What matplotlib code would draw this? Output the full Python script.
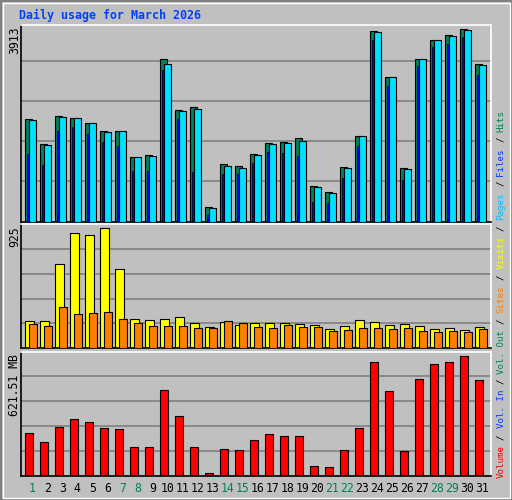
import matplotlib
matplotlib.use("Agg")
import matplotlib.pyplot as plt
import numpy as np
from matplotlib.patches import Rectangle

days = list(range(1, 32))
weekend_days = [1, 7, 8, 14, 15, 21, 22, 28, 29]

hits = [2050, 1551, 2110, 2070, 1970, 1810, 1810, 1291, 1331, 3228, 2230, 2290, 293, 1152, 1112, 1351,
        1571, 1591, 1671, 713, 593, 1092, 1711, 3787, 2868, 1072, 3228, 3607, 3707, 3827, 3128]
files = [2030, 1531, 2090, 2070, 1970, 1790, 1810, 1291, 1311, 3128, 2210, 2250, 273, 1112, 1072, 1331,
         1551, 1571, 1611, 693, 573, 1072, 1711, 3767, 2868, 1052, 3228, 3607, 3687, 3807, 3108]
pages = [1351, 1132, 1796, 1876, 1750, 1591, 1511, 1012, 1012, 3008, 2050, 992, 120, 952, 952, 1172,
         1391, 1371, 1311, 393, 373, 872, 1511, 3607, 2689, 832, 3088, 3467, 3527, 3667, 2908]
visits = [201, 201, 625, 856, 841, 893, 588, 216, 208, 216, 231, 186, 156, 193, 171, 186,
          186, 186, 179, 171, 141, 164, 208, 193, 171, 179, 164, 141, 149, 134, 156]
sites = [179, 164, 305, 253, 260, 268, 216, 186, 164, 164, 164, 149, 149, 201, 186, 156,
         149, 171, 156, 156, 126, 134, 149, 149, 141, 149, 126, 119, 126, 119, 141]
volume_mb = [213, 168, 243, 284, 269, 238, 233, 143, 143, 430, 299, 143, 12, 133, 128, 178,
             208, 198, 198, 47, 42, 128, 238, 571, 425, 123, 485, 561, 571, 601, 480]

HITS_MAX, VISITS_MAX, VOL_MAX = 3913, 925, 621.51

BG = "#C0C0C0"
W, H = 512, 500
fig = plt.figure(figsize=(W / 100, H / 100), dpi=100)
fig.patch.set_facecolor(BG)
mono = "DejaVu Sans Mono"

# outer 3D border
fig.patches.append(Rectangle((0.5 / W, 0.5 / H), 1 - 1 / W, 1 - 1 / H, transform=fig.transFigure,
                             fill=False, ec="#808080", lw=1.5))
fig.patches.append(Rectangle((2.5 / W, 2.5 / H), 1 - 5 / W, 1 - 5 / H, transform=fig.transFigure,
                             fill=False, ec="white", lw=1))


def make_ax(top, bottom):
    left, right = 20.7, 491
    ax = fig.add_axes([left / W, (H - bottom) / H, (right - left) / W, (bottom - top) / H])
    ax.set_facecolor(BG)
    ax.set_xlim(0.327, 31.68)
    ax.set_xticks([])
    ax.set_yticks([])
    for s in ("left", "bottom"):
        ax.spines[s].set_color("black")
    for s in ("top", "right"):
        ax.spines[s].set_color("white")
    for sp in ax.spines.values():
        sp.set_linewidth(1.2)
    return ax


x = np.array(days, dtype=float)
u = 1 / 15  # one pixel in day units

# top panel
ax1 = make_ax(25, 221.5)
ax1.set_ylim(0, HITS_MAX)
for g in range(1, 5):
    ax1.axhline(HITS_MAX * g / 4.9, color="#808080", lw=1.2, zorder=0)
ax1.bar(x - 5.5 * u, hits, width=7 * u, align="edge", color="#00805C", ec="black", lw=0.8, zorder=2)
ax1.bar(x - 1.5 * u, files, width=7.2 * u, align="edge", color="#00E0FF", ec="black", lw=0.8, zorder=3)
ax1.bar(x - 3.8 * u, pages, width=2.2 * u, align="edge", color="#0000FF", ec="black", lw=0.5, zorder=4)

# middle panel
ax2 = make_ax(224, 348.3)
ax2.set_ylim(0, VISITS_MAX)
for g in range(1, 5):
    ax2.axhline(VISITS_MAX * g / 5, color="#808080", lw=1.2, zorder=0)
ax2.bar(x - 5.5 * u, visits, width=8.3 * u, align="edge", color="#FFFF00", ec="black", lw=0.8, zorder=2)
ax2.bar(x - 1.5 * u, sites, width=7.3 * u, align="edge", color="#FF8000", ec="black", lw=0.8, zorder=3)

# bottom panel
ax3 = make_ax(352.3, 475.7)
ax3.set_ylim(0, VOL_MAX)
for g in range(1, 5):
    ax3.axhline(VOL_MAX * g / 4.93, color="#808080", lw=1.2, zorder=0)
ax3.bar(x - 5.5 * u, volume_mb, width=7.3 * u, align="edge", color="#FF0000", ec="black", lw=0.8, zorder=2)

# day labels
for d in days:
    c = "#00805C" if d in weekend_days else "black"
    ax3.text(d + 0.1, -0.105, str(d), transform=ax3.get_xaxis_transform(), ha="center", va="center",
             fontsize=8.3, family=mono, color=c)

# titles and y-axis maxima
fig.text(19 / W, 1 - 15 / H, "Daily usage for March 2026", color="#0040FF", fontsize=8.4,
         family=mono, fontweight="bold", va="center")
for label, ytop in (("3913", 27), ("925", 226), ("621.51 MB", 354)):
    fig.text(15 / W, 1 - ytop / H, label, rotation=90, fontsize=8.3, family=mono,
             ha="center", va="top")

# right side legend, drawn one segment after another from the bottom up
segments = [("Volume", "#FF0000"), ("/", "black"), ("Vol. In", "#0040FF"), ("/", "black"),
            ("Vol. Out", "#00805C"), ("/", "black"), ("Sites", "#FF8000"), ("/", "black"),
            ("Visits", "#FFFF00"), ("/", "black"), ("Pages", "#00C0FF"), ("/", "black"),
            ("Files", "#0040FF"), ("/", "black"), ("Hits", "#00805C")]
char_px = 5.5
ypos = 478.0
for txt, col in segments:
    fig.text(501 / W, 1 - ypos / H, txt, rotation=90, fontsize=6.6, family=mono, color=col,
             ha="center", va="bottom")
    ypos -= (len(txt) + 1) * char_px

fig.savefig("out.png", dpi=100, facecolor=BG)
